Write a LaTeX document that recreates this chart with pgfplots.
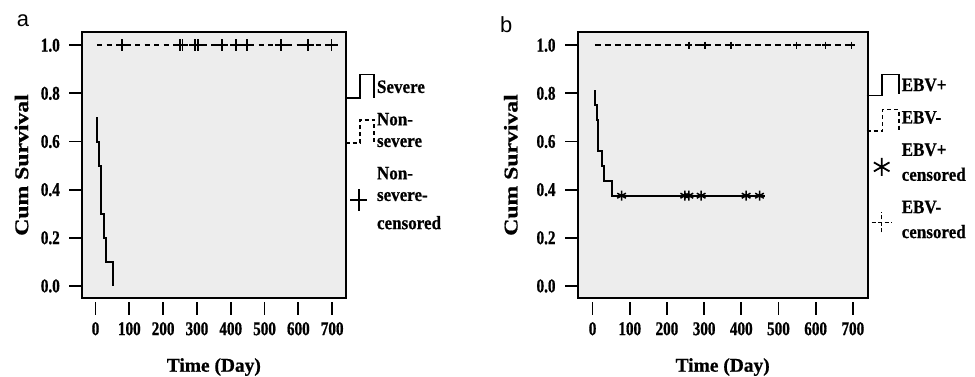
\documentclass[border=0pt]{standalone}
\usepackage{fontspec}
\setmainfont{Liberation Serif}
\newfontfamily\tickfont[FakeStretch=0.78, FakeBold=0.8]{Liberation Serif}
\newfontfamily\xlabfont[FakeStretch=1.0, FakeBold=0.8]{Liberation Serif}
\newfontfamily\ylabfont[FakeStretch=1.22, FakeBold=0.8]{Liberation Serif}
\newfontfamily\legfont[FakeStretch=0.9, FakeBold=0.6]{Liberation Serif}
\newfontfamily\panelfont{Liberation Sans}
\usepackage{pgfplots}
\pgfplotsset{compat=1.18}
\definecolor{bg}{RGB}{237,237,237}

\pgfplotsset{km/.style={
  scale only axis, height=266bp,
  xmin=-40, xmax=740, ymin=-0.05, ymax=1.055,
  axis background/.style={fill=bg},
  axis line style={line width=1.7bp},
  xtick={0,100,200,300,400,500,600,700},
  ytick={0,0.2,0.4,0.6,0.8,1},
  tick pos=left,
  tick align=outside, major tick length=12.5bp,
  every tick/.style={line width=1.8bp, black},
  xtick style={yshift=-4bp},
  ticklabel style={font=\tickfont\bfseries\fontsize{19.5}{21}\selectfont},
  /pgf/number format/assume math mode=true,
  yticklabel style={/pgf/number format/fixed, /pgf/number format/fixed zerofill, /pgf/number format/precision=1, inner sep=4bp, xshift=-5.5bp},
  xticklabel style={inner sep=0pt, yshift=-11.5bp},
  xlabel style={font=\xlabfont\bfseries\fontsize{19.5}{21}\selectfont, anchor=base},
  ylabel style={font=\ylabfont\bfseries\fontsize{19.5}{21}\selectfont, anchor=center, rotate=0},
  legend style={draw=none, fill=none, inner sep=0pt, outer sep=0pt, row sep=18.5bp, column sep=0pt,
    nodes={inner sep=0pt, outer sep=0pt}, cells={anchor=west, align=left},
    font=\legfont\bfseries\fontsize{19}{25}\selectfont},
  legend cell align=left,
}}

\begin{document}
\begin{tikzpicture}
\path[use as bounding box] (0,0) rectangle (975bp,377bp);

% ---------------- panel a ----------------
\begin{axis}[km, width=263.7bp, at={(82bp,79bp)}, anchor=south west,
  xlabel={Time (Day)}, ylabel={Cum Survival},
  xlabel style={at={(axis description cs:0.5,-0.277)}},
  ylabel style={at={(axis description cs:-0.2294,0.5)}},
  legend style={at={(axis description cs:1,0.818)}, anchor=north west, xshift=31.3bp}]
\addplot[forget plot, black, line width=2bp] coordinates {
 (5,0.7)(5,0.6)(10,0.6)(10,0.5)(15,0.5)(15,0.4)(17,0.4)(17,0.3)(25,0.3)(25,0.2)(30,0.2)(30,0.1)(52,0.1)(52,0)};
\addplot[forget plot, black, line width=1.7bp, dash pattern=on 5bp off 4.5bp] coordinates {(5,1)(706,1)};
\addplot[forget plot, only marks, mark=+, mark size=6bp, mark options={line width=1.8bp, black, solid}] coordinates {
 (79,1)(249,1)(257,1)(294,1)(304,1)(373,1)(415,1)(449,1)(548,1)(629,1)(698,1)};
\addlegendimage{legend image code/.code={\draw[overlay, line width=1.7bp, black] (-31.3bp,-10.9bp) -- (-17bp,-10.9bp) -- (-17bp,12.8bp) -- (-3bp,12.8bp) -- (-3bp,-10.9bp);}}
\addlegendentry{Severe}
\addlegendimage{legend image code/.code={\draw[overlay, line width=1.5bp, black, dash pattern=on 4bp off 3bp] (-31.3bp,-12.3bp) -- (-17bp,-12.3bp) -- (-17bp,10.8bp) -- (-3bp,10.8bp) -- (-3bp,-12.3bp);}}
\addlegendentry{Non-\\[-3.3bp]severe}
\addlegendimage{legend image code/.code={\draw[overlay, line width=1.8bp, black] (-26.5bp,-1.2bp) -- (-9.5bp,-1.2bp) (-18bp,-12.2bp) -- (-18bp,9.8bp);}}
\addlegendentry{Non-\\[-3.3bp]severe-\\[3.3bp]censored}
\end{axis}

% ---------------- panel b ----------------
\begin{axis}[km, width=290bp, at={(577.7bp,79bp)}, anchor=south west,
  xlabel={Time (Day)}, ylabel={Cum Survival},
  xlabel style={at={(axis description cs:0.5,-0.277)}},
  ylabel style={at={(axis description cs:-0.2307,0.5)}},
  legend style={at={(axis description cs:1,0.8244)}, anchor=north west, xshift=34bp}]
\addplot[forget plot, black, line width=2bp] coordinates {
 (6,0.8125)(6,0.75)(11,0.75)(11,0.6875)(15,0.6875)(15,0.5625)(24,0.5625)(24,0.5)(30,0.5)(30,0.4375)(51,0.4375)(51,0.375)(463,0.375)};
\addplot[forget plot, black, line width=1.7bp, dash pattern=on 6bp off 4bp] coordinates {(6,1)(703,1)};
\addplot[forget plot, only marks, mark=asterisk, mark size=5bp, mark options={line width=1.5bp, black, solid}] coordinates {
 (78,0.375)(248,0.375)(259,0.375)(292,0.375)(413,0.375)(449,0.375)};
\addplot[forget plot, only marks, mark=+, mark size=3.5bp, mark options={line width=1.5bp, black, solid}] coordinates {
 (259,1)(302,1)(372,1)(548,1)(626,1)(696,1)};
\addlegendimage{legend image code/.code={\draw[overlay, line width=1.7bp, black] (-35bp,-9.8bp) -- (-19.4bp,-9.8bp) -- (-19.4bp,11.2bp) -- (-2.7bp,11.2bp) -- (-2.7bp,-8.1bp);}}
\addlegendentry{EBV+}
\addlegendimage{legend image code/.code={\draw[overlay, line width=1.5bp, black, dash pattern=on 4bp off 3bp] (-35bp,-13.1bp) -- (-19.4bp,-13.1bp) -- (-19.4bp,8.5bp) -- (-2.7bp,8.5bp) -- (-2.7bp,-13.1bp);}}
\addlegendentry{EBV-}
\addlegendimage{legend image code/.code={\draw[overlay, only marks, mark=asterisk, mark size=9bp, mark options={line width=1.8bp, black, solid}] plot coordinates {(-20bp,-4bp)};}}
\addlegendentry{EBV+\\censored}
\addlegendimage{legend image code/.code={\draw[overlay, line width=1.5bp, black, dash pattern=on 4bp off 2.5bp] (-30bp,-2.3bp) -- (-10bp,-2.3bp) (-20bp,-12.3bp) -- (-20bp,7.7bp);}}
\addlegendentry{EBV-\\censored}
\end{axis}

\node[font=\panelfont\fontsize{22}{22}\selectfont, anchor=base west, inner sep=0pt] at (16.7bp,350.3bp) {a};
\node[font=\panelfont\fontsize{22}{22}\selectfont, anchor=base west, inner sep=0pt] at (500bp,344bp) {b};
\end{tikzpicture}
\end{document}
